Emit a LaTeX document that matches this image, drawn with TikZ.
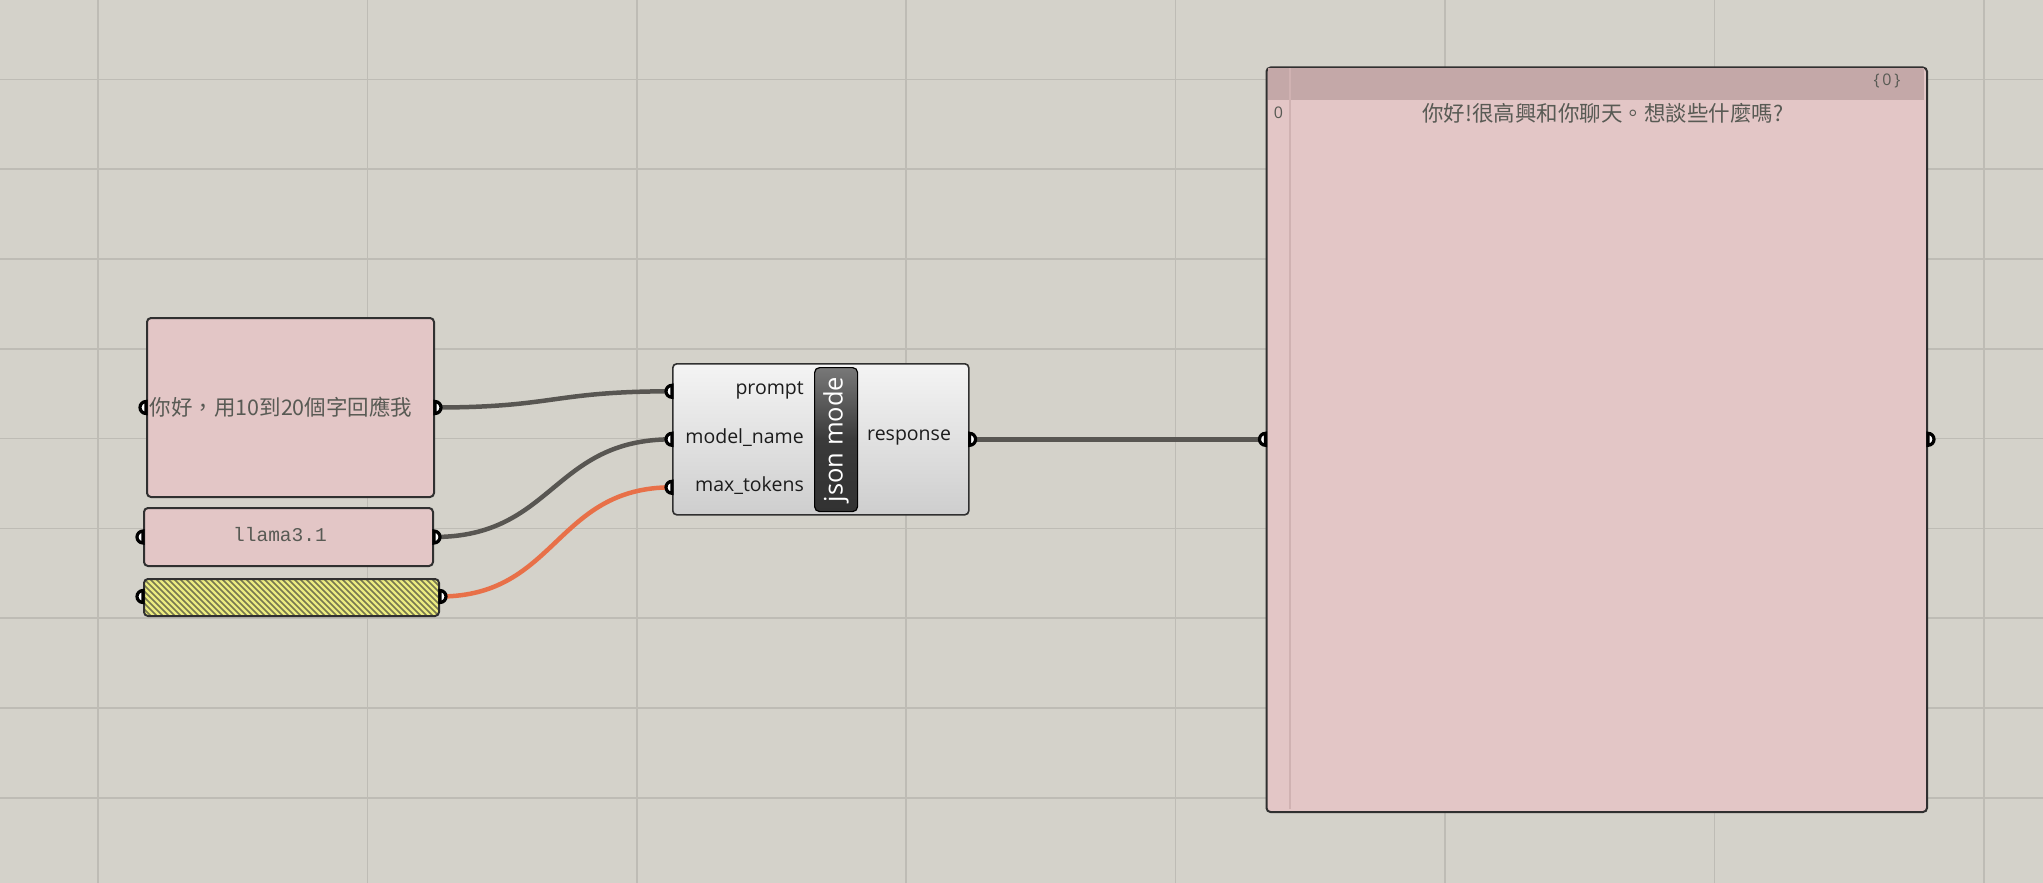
\documentclass[tikz,border=0pt]{standalone}
\usepackage{fontspec}
\setmainfont{Open Sans}
\newfontfamily\cjk{Noto Sans CJK TC}
\newfontfamily\monofnt{Liberation Mono}
\usetikzlibrary{calc}
\definecolor{bg}{RGB}{212,210,202}
\definecolor{gridc}{RGB}{190,188,181}
\definecolor{pink}{RGB}{227,198,198}
\definecolor{pinkhead}{RGB}{196,168,168}
\definecolor{pinkline}{RGB}{208,178,178}
\definecolor{edge}{RGB}{48,48,48}
\definecolor{wirec}{RGB}{88,86,82}
\definecolor{orangew}{RGB}{232,112,72}
\definecolor{yel}{RGB}{236,236,128}
\definecolor{stripe}{RGB}{120,120,80}
\definecolor{txtc}{RGB}{88,90,84}
\definecolor{lblc}{RGB}{28,28,28}
\tikzset{
  gridline/.style={draw=gridc, line width=1.5pt},
  panel/.style={draw=edge, fill=pink, line width=2pt, rounded corners=4pt, inner sep=0pt, anchor=north west},
  sliderbox/.style={draw=edge, fill=yel, line width=2pt, rounded corners=4pt, inner sep=0pt, anchor=north west},
  compbox/.style={draw=edge, line width=1.6pt, rounded corners=4pt, inner sep=0pt, anchor=north west, top color={rgb,255:red,244;green,244;blue,244}, bottom color={rgb,255:red,206;green,206;blue,206}},
  namebox/.style={draw=black, line width=1.2pt, rounded corners=5pt, inner sep=0pt, anchor=north west, top color={rgb,255:red,120;green,120;blue,120}, bottom color={rgb,255:red,50;green,50;blue,50}, middle color={rgb,255:red,58;green,58;blue,58}},
  wire/.style={draw=wirec, line width=4.5pt},
  owire/.style={draw=orangew, line width=4.5pt},
  port/.style={draw=black, fill=white, line width=3.2pt},
  cjktext/.style={font=\cjk\fontsize{21.5}{24}\selectfont, text=txtc, inner sep=0pt},
  monotext/.style={font=\monofnt\fontsize{19.5}{22}\selectfont, text=txtc, inner sep=0pt},
  lbl/.style={font=\fontsize{19.5}{22}\selectfont, text=lblc, inner sep=0pt},
  smalltxt/.style={font=\fontsize{16}{18}\selectfont, text=txtc, inner sep=0pt},
}
\newcommand\ghinport[1]{\filldraw[port] ($(#1)+(0,6)$) arc[start angle=90,end angle=270,radius=6] -- cycle;}
\newcommand\ghoutport[1]{\filldraw[port] ($(#1)+(0,-6)$) arc[start angle=-90,end angle=90,radius=6] -- cycle;}
\begin{document}
\begin{tikzpicture}[x=1pt,y=-1pt]
\fill[bg] (0,0) rectangle (2043,883);
\useasboundingbox (0,0) rectangle (2043,883);
% grid
\foreach \i in {0,...,7} \draw[gridline] ({98+269.4*\i},0) -- ++(0,883);
\foreach \j in {0,...,8} \draw[gridline] (0,{79.4+89.8*\j}) -- ++(2043,0);

% input panels
\node[panel, minimum width=287pt, minimum height=179pt] (prompt) at (146,317) {};
\node[panel, minimum width=289pt, minimum height=58pt] (model) at (143,507) {};
\node[sliderbox, minimum width=295pt, minimum height=37pt,
  path picture={\foreach \s in {-50,-44,...,320}
     \draw[stripe, line width=1.7pt] ($(path picture bounding box.north west)+(\s,-2)$) -- ++(44,44);}] (slider) at (143,578) {};
\node[cjktext] (prompttxt) at (281,407) {你好，用10到20個字回應我};
\node[monotext] (modeltxt) at (280,535) {llama3.1};

% component
\node[compbox, minimum width=296pt, minimum height=151pt] (comp) at (672,363) {};
\node[namebox, minimum width=43pt, minimum height=144pt] (nick) at (814,367) {};
\node[font=\fontsize{25.5}{28}\selectfont, text=white, rotate=90, inner sep=0pt] (nicktxt) at (nick.center) {json mode};
\node[lbl, anchor=east] (lprompt) at (804,390) {prompt};
\node[lbl, anchor=east] (lmodel) at (804,438) {model\_name};
\node[lbl, anchor=east] (lmax) at (804,486) {max\_tokens};
\node[lbl, anchor=west] (lresp) at (867,438) {response};

% output panel
\node[panel, minimum width=660.5pt, minimum height=744.5pt] (out) at (1265.5,66.5) {};
\fill[pinkhead] (1267.5,68.5) rectangle (1924,100);
\draw[pinkline, line width=1.5pt] (1290,68.5) -- (1290,809);
\node[smalltxt] (idx) at (1278.5,113) {0};
\node[smalltxt] (path) at (1887,81) {\{\,0\,\}};
\node[cjktext] (outtxt) at (1603,113) {你好!很高興和你聊天。想談些什麼嗎?};

% port coordinates
\coordinate (pIn) at (prompt.west);
\coordinate (pOut) at (prompt.east);
\coordinate (mIn) at (model.west);
\coordinate (mOut) at (model.east);
\coordinate (sIn) at ($(slider.west)+(0,-1)$);
\coordinate (sOut) at ($(slider.east)+(0,-1)$);
\coordinate (cIn1) at ($(comp.west)+(0,-48)$);
\coordinate (cIn2) at (comp.west);
\coordinate (cIn3) at ($(comp.west)+(0,48)$);
\coordinate (cOut) at (comp.east);
\coordinate (oIn) at (out.west |- cOut);
\coordinate (oOut) at (out.east |- cOut);

% wires
\draw[wire] (pOut) .. controls ($(pOut)+(120,0)$) and ($(cIn1)+(-120,0)$) .. (cIn1);
\draw[wire] (mOut) .. controls ($(mOut)+(120,0)$) and ($(cIn2)+(-120,0)$) .. (cIn2);
\draw[owire] (sOut) .. controls ($(sOut)+(117,0)$) and ($(cIn3)+(-117,0)$) .. (cIn3);
\draw[wire] (cOut) -- (oIn);

% ports
\ghinport{pIn}\ghoutport{pOut}
\ghinport{mIn}\ghoutport{mOut}
\ghinport{sIn}\ghoutport{sOut}
\ghinport{cIn1}\ghinport{cIn2}\ghinport{cIn3}\ghoutport{cOut}
\ghinport{oIn}\ghoutport{oOut}
\end{tikzpicture}
\end{document}
